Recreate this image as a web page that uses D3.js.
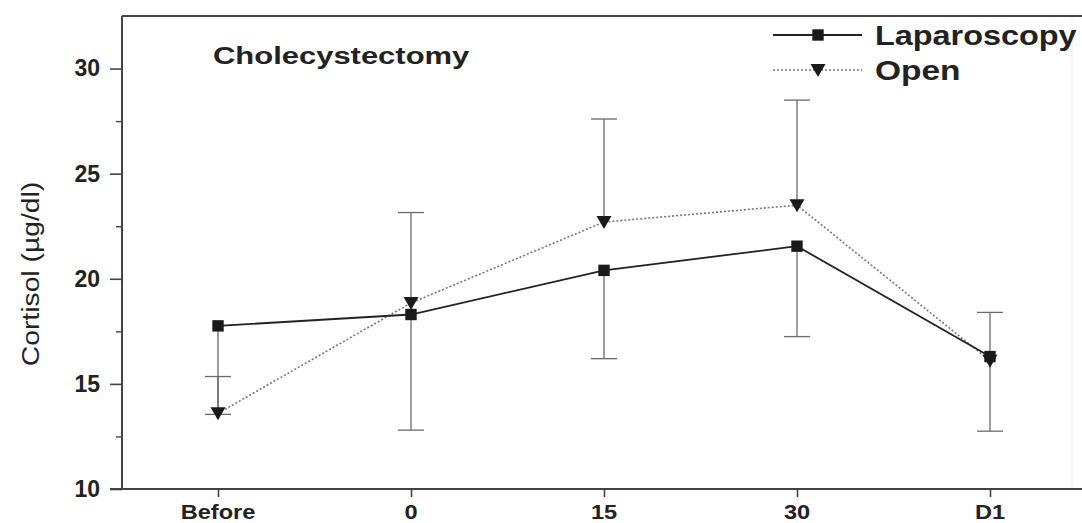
<!DOCTYPE html>
<html>
<head>
<meta charset="utf-8">
<script src="https://cdn.jsdelivr.net/npm/d3@7.9.0/dist/d3.min.js"></script>
<style>
  html, body { margin: 0; padding: 0; background: #fff; }
  svg { display: block; font-family: "Liberation Sans", Arial, sans-serif; }
</style>
</head>
<body>
<svg id="chart" width="1082" height="523"></svg>
<script>
// ─── Data ────────────────────────────────────────────────────────────────────
const categories = ['Before', '0', '15', '30', 'D1'];
const lapMean = [17.76, 18.3, 20.4, 21.55, 16.3];
const lapLow = [13.55, 12.8, 16.2, 17.25, 12.75];   // error bars go down
const openMean = [13.6, 18.85, 22.7, 23.5, 16.1];
const openHigh = [15.35, 23.15, 27.6, 28.5, 18.4];  // error bars go up
const yTicks = [10, 15, 20, 25, 30];
const yMinorTicks = [12.5, 17.5, 22.5, 27.5];

// ─── Layout ──────────────────────────────────────────────────────────────────
const plotLeft = 122, plotRight = 1082, plotTop = 16, plotBottom = 489;
const svg = d3.select('#chart');

const x = d3.scalePoint().domain(categories).range([218, 990]);
const y = d3.scaleLinear().domain([10, 32.5]).range([plotBottom, plotTop]);

const axisColor = '#444';
const barColor = '#6a6a6a';

// frame: left, top, bottom (right side is almost invisible in the source)
svg.append('line').attr('x1', 1072).attr('x2', 1072).attr('y1', plotTop).attr('y2', plotBottom)
  .attr('stroke', '#f2f2f2').attr('stroke-width', 1.5);
svg.append('line').attr('x1', plotLeft).attr('x2', plotLeft).attr('y1', plotTop).attr('y2', plotBottom)
  .attr('stroke', axisColor).attr('stroke-width', 2);
svg.append('line').attr('x1', plotLeft).attr('x2', plotRight).attr('y1', plotTop).attr('y2', plotTop)
  .attr('stroke', axisColor).attr('stroke-width', 2);
svg.append('line').attr('x1', plotLeft - 12).attr('x2', plotRight).attr('y1', plotBottom).attr('y2', plotBottom)
  .attr('stroke', axisColor).attr('stroke-width', 2);

// y axis
const yAxis = d3.axisLeft(y).tickValues(yTicks).tickSize(12).tickPadding(10).tickFormat(d3.format('d'));
const gy = svg.append('g').attr('transform', `translate(${plotLeft},0)`).call(yAxis);
gy.select('.domain').remove();
gy.selectAll('.tick line').attr('stroke', axisColor).attr('stroke-width', 1.6);
gy.selectAll('.tick text').attr('font-size', 23).attr('font-weight', 'bold').attr('fill', '#222')
  .attr('font-family', '"Liberation Sans", Arial, sans-serif');

const gyMinor = svg.append('g').attr('transform', `translate(${plotLeft},0)`)
  .call(d3.axisLeft(y).tickValues(yMinorTicks).tickSize(6).tickFormat(''));
gyMinor.select('.domain').remove();
gyMinor.selectAll('.tick line').attr('stroke', axisColor).attr('stroke-width', 1.4);

// x axis
const gx = svg.append('g').attr('transform', `translate(0,${plotBottom})`)
  .call(d3.axisBottom(x).tickSize(8).tickFormat(''));
gx.select('.domain').remove();
gx.selectAll('.tick line').attr('stroke', axisColor).attr('stroke-width', 1.6);

svg.append('g').selectAll('text').data(categories).join('text')
  .attr('transform', d => `translate(${x(d)},519) scale(1.18,1)`)
  .attr('text-anchor', 'middle')
  .attr('font-size', 20).attr('font-weight', 'bold').attr('fill', '#222')
  .text(d => d);

// y label
svg.append('text')
  .attr('transform', 'translate(39,274) rotate(-90) scale(1.23,1)')
  .attr('text-anchor', 'middle')
  .attr('font-size', 23).attr('fill', '#222')
  .text('Cortisol (µg/dl)');

// title
svg.append('text')
  .attr('transform', 'translate(213,64) scale(1.29,1)')
  .attr('font-size', 24).attr('font-weight', 'bold').attr('fill', '#222')
  .text('Cholecystectomy');

// ─── Error bars ─────────────────────────────────────────────────────────────
const capW = 13;
function errorBars(means, ends) {
  const g = svg.append('g').attr('stroke', barColor).attr('stroke-width', 1.3);
  categories.forEach((c, i) => {
    g.append('line').attr('x1', x(c)).attr('x2', x(c)).attr('y1', y(means[i])).attr('y2', y(ends[i]));
    g.append('line').attr('x1', x(c) - capW).attr('x2', x(c) + capW).attr('y1', y(ends[i])).attr('y2', y(ends[i]));
  });
}
errorBars(lapMean, lapLow);
errorBars(openMean, openHigh);

// ─── Lines ───────────────────────────────────────────────────────────────────
const line = d3.line().x((d, i) => x(categories[i])).y(d => y(d));

svg.append('path').datum(openMean).attr('d', line)
  .attr('fill', 'none').attr('stroke', '#777').attr('stroke-width', 1.6)
  .attr('stroke-dasharray', '2,2');
svg.append('path').datum(lapMean).attr('d', line)
  .attr('fill', 'none').attr('stroke', '#222').attr('stroke-width', 1.8);

const square = d3.symbol().type(d3.symbolSquare).size(130);
const triangle = 'M-7.5,-6 L7.5,-6 L0,7 Z';

svg.append('g').selectAll('path').data(lapMean).join('path')
  .attr('d', square)
  .attr('transform', (d, i) => `translate(${x(categories[i])},${y(d)})`)
  .attr('fill', '#1a1a1a');
svg.append('g').selectAll('path').data(openMean).join('path')
  .attr('d', triangle)
  .attr('transform', (d, i) => `translate(${x(categories[i])},${y(d)})`)
  .attr('fill', '#1a1a1a');

// ─── Legend ──────────────────────────────────────────────────────────────────
const lg = svg.append('g');
lg.append('line').attr('x1', 773).attr('x2', 862).attr('y1', 35).attr('y2', 35)
  .attr('stroke', '#222').attr('stroke-width', 1.8);
lg.append('path').attr('d', square).attr('transform', 'translate(818,35)').attr('fill', '#1a1a1a');
lg.append('text').attr('transform', 'translate(875,45) scale(1.2,1)')
  .attr('font-size', 27).attr('font-weight', 'bold').attr('fill', '#222')
  .text('Laparoscopy');

lg.append('line').attr('x1', 773).attr('x2', 862).attr('y1', 70).attr('y2', 70)
  .attr('stroke', '#777').attr('stroke-width', 1.6).attr('stroke-dasharray', '2,2');
lg.append('path').attr('d', triangle).attr('transform', 'translate(818,70)').attr('fill', '#1a1a1a');
lg.append('text').attr('transform', 'translate(875,80) scale(1.24,1)')
  .attr('font-size', 27).attr('font-weight', 'bold').attr('fill', '#222')
  .text('Open');
</script>
</body>
</html>
